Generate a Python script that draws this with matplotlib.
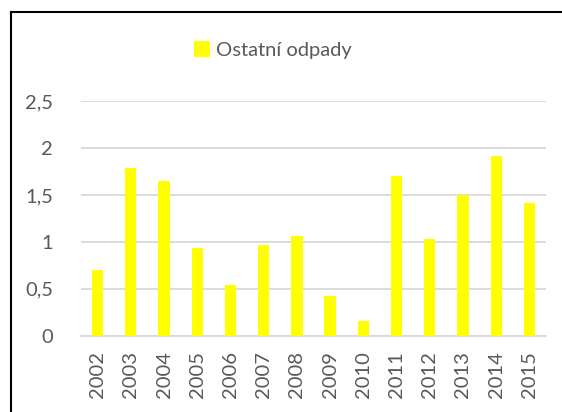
import matplotlib
matplotlib.use("Agg")
import matplotlib.pyplot as plt
from matplotlib.ticker import FuncFormatter
from matplotlib.lines import Line2D
from matplotlib.patches import Patch

years = ["2002", "2003", "2004", "2005", "2006", "2007", "2008",
         "2009", "2010", "2011", "2012", "2013", "2014", "2015"]
values = [0.70, 1.79, 1.65, 0.93, 0.54, 0.97, 1.06,
          0.42, 0.16, 1.70, 1.03, 1.50, 1.91, 1.41]
yticks = [0, 0.5, 1, 1.5, 2, 2.5]
series_name = "Ostatní odpady"

plt.rcParams['font.family'] = ['Lato', 'DejaVu Sans']
txt = '#595959'
grid = '#d9d9d9'
W, H = 562, 412
fig = plt.figure(figsize=(W/100, H/100), dpi=100)
ax = fig.add_axes([81/W, 1 - 335.7/H, (546-81)/W, (335.7-101)/H])

x = list(range(len(years)))
ax.bar(x, values, width=0.34, color='#ffff00', zorder=3)
ax.set_xlim(-0.5, len(years) - 0.5)
ax.set_ylim(0, 2.5)
ax.set_yticks(yticks)
ax.yaxis.set_major_formatter(FuncFormatter(lambda v, p: ('%g' % v).replace('.', ',')))
ax.set_xticks(x)
ax.set_xticklabels(years, rotation=90)
ax.tick_params(axis='both', length=0, colors=txt, labelsize=14.5)
ax.tick_params(axis='y', pad=20)
ax.tick_params(axis='x', pad=11)
ax.grid(axis='y', color=grid, linewidth=1.3, zorder=0)
for s in ['top', 'right', 'left']:
    ax.spines[s].set_visible(False)
ax.spines['bottom'].set_color(grid)
ax.spines['bottom'].set_linewidth(1.3)

handle = Patch(facecolor='#ffff00', edgecolor='none')
fig.legend([handle], [series_name], loc='center', bbox_to_anchor=(273/W, 1 - 50/H),
           frameon=False, fontsize=14.5, labelcolor=txt, handlelength=0.8, handleheight=0.8,
           handletextpad=0.3)

# outer chart frame (top and left visible)
fig.add_artist(Line2D([10.5/W, 1], [1 - 11.5/H, 1 - 11.5/H], transform=fig.transFigure, color='black', linewidth=1.5))
fig.add_artist(Line2D([10.5/W, 10.5/W], [0, 1 - 11.5/H], transform=fig.transFigure, color='black', linewidth=1.5))

fig.savefig("out.png", dpi=100, facecolor='white')
